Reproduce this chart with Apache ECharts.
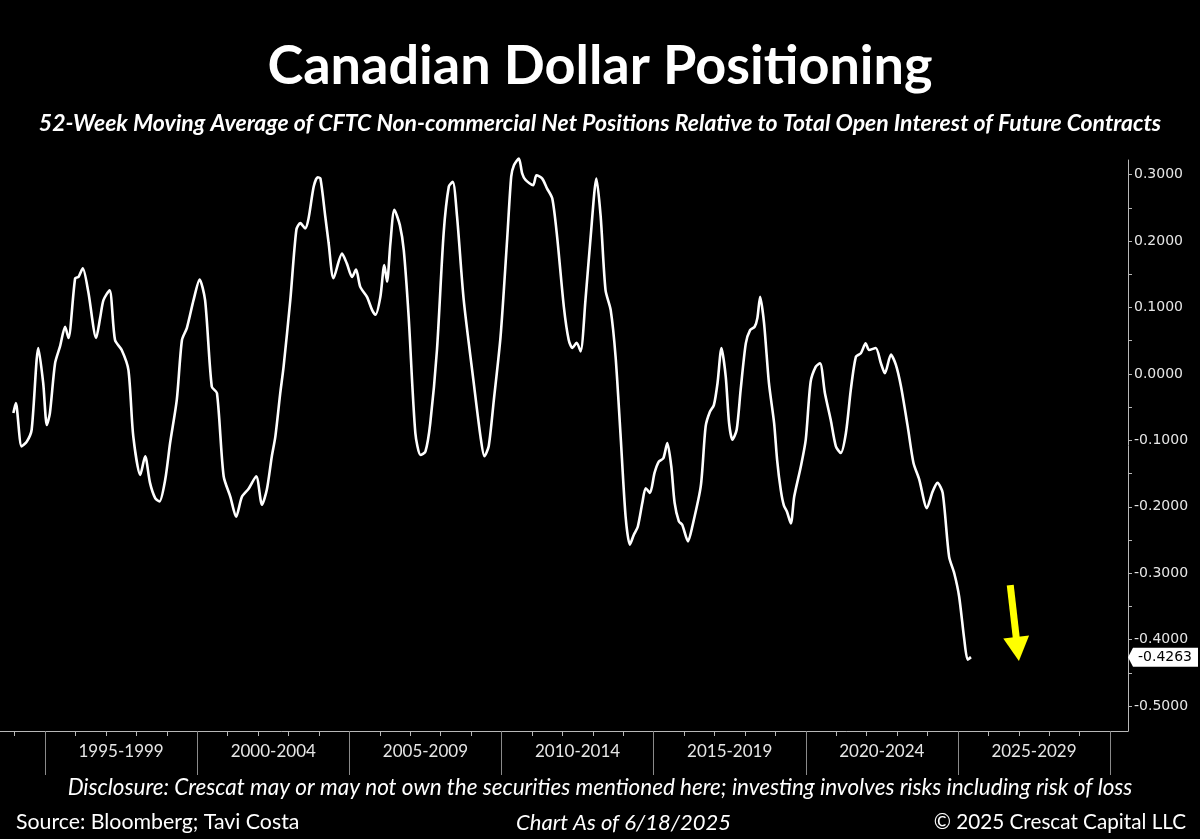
<!DOCTYPE html>
<html>
<head>
<meta charset="utf-8">
<script src="https://cdn.jsdelivr.net/npm/echarts@6/dist/echarts.min.js"></script>
<style>
html,body{margin:0;padding:0;background:#000;}
#chart{width:1200px;height:839px;}
</style>
</head>
<body>
<div id="chart"></div>
<script>
// ---- data (decimal year, 52w MA of net positions / open interest) ----
const years = [
1993.96,1994.04,1994.23,1994.40,1994.56,1994.78,1994.94,1995.06,1995.16,1995.33,1995.49,1995.66,1995.77,1995.99,
1996.10,1996.24,1996.42,1996.68,1996.81,1996.92,1997.12,1997.30,1997.52,1997.74,1997.90,1998.13,1998.29,1998.45,
1998.62,1998.76,1998.95,1999.11,1999.33,1999.50,1999.66,1999.88,2000.08,2000.26,2000.48,2000.65,2000.87,2001.09,
2001.28,2001.47,2001.69,2001.94,2002.13,2002.29,2002.45,2002.57,2002.73,2002.84,2003.06,2003.26,2003.39,2003.55,
2003.66,2003.83,2003.96,2004.05,2004.21,2004.32,2004.48,2004.76,2004.92,2005.09,2005.22,2005.36,2005.58,2005.75,
2005.86,2006.02,2006.15,2006.24,2006.35,2006.48,2006.66,2006.79,2006.95,2007.17,2007.34,2007.50,2007.66,2007.88,
2008.10,2008.27,2008.40,2008.54,2008.76,2009.09,2009.31,2009.44,2009.58,2009.75,2009.97,2010.19,2010.32,2010.41,
2010.57,2010.68,2010.79,2011.04,2011.15,2011.34,2011.50,2011.67,2011.83,2012.05,2012.21,2012.33,2012.47,2012.60,
2012.76,2012.93,2013.12,2013.26,2013.42,2013.59,2013.75,2013.91,2014.08,2014.22,2014.35,2014.48,2014.63,2014.74,
2014.88,2015.03,2015.17,2015.32,2015.45,2015.58,2015.69,2015.83,2015.94,2016.13,2016.27,2016.55,2016.71,2016.85,
2016.98,2017.10,2017.23,2017.37,2017.48,2017.59,2017.73,2017.86,2018.03,2018.17,2018.32,2018.41,2018.50,2018.63,
2018.79,2018.96,2019.06,2019.18,2019.28,2019.38,2019.51,2019.62,2019.84,2020.00,2020.16,2020.33,2020.47,2020.63,
2020.82,2020.99,2021.15,2021.32,2021.48,2021.65,2021.81,2021.97,2022.08,2022.30,2022.47,2022.60,2022.80,2022.96,
2023.13,2023.35,2023.54,2023.73,2023.98,2024.17,2024.33,2024.50,2024.71,2024.88,2025.04,2025.21,2025.32,2025.43
];
const values = [
-0.059,-0.044,-0.109,-0.102,-0.084,0.039,-0.014,-0.077,-0.059,0.016,0.041,0.071,0.054,0.144,
0.146,0.159,0.124,0.054,0.084,0.111,0.126,0.051,0.036,0.006,-0.094,-0.152,-0.124,-0.164,
-0.187,-0.192,-0.159,-0.104,-0.039,0.051,0.069,0.111,0.142,0.111,-0.019,-0.029,-0.154,-0.185,
-0.215,-0.185,-0.173,-0.154,-0.197,-0.174,-0.125,-0.094,-0.029,0.011,0.111,0.217,0.227,0.219,
0.234,0.282,0.296,0.294,0.237,0.197,0.144,0.181,0.166,0.146,0.157,0.131,0.116,0.096,
0.089,0.116,0.164,0.139,0.197,0.247,0.224,0.186,0.086,-0.089,-0.122,-0.117,-0.074,0.036,
0.212,0.282,0.289,0.237,0.111,-0.014,-0.094,-0.124,-0.109,-0.039,0.056,0.205,0.297,0.314,
0.324,0.302,0.292,0.284,0.299,0.294,0.279,0.264,0.206,0.101,0.051,0.039,0.047,0.034,
0.111,0.206,0.294,0.237,0.126,0.096,0.026,-0.089,-0.215,-0.257,-0.242,-0.230,-0.194,-0.172,
-0.179,-0.149,-0.132,-0.127,-0.104,-0.139,-0.194,-0.222,-0.227,-0.252,-0.230,-0.169,-0.079,-0.057,
-0.047,-0.014,0.039,-0.004,-0.074,-0.099,-0.084,-0.024,0.046,0.066,0.071,0.084,0.116,0.076,
-0.014,-0.074,-0.130,-0.175,-0.198,-0.207,-0.225,-0.185,-0.139,-0.099,-0.012,0.011,0.016,-0.029,
-0.069,-0.109,-0.119,-0.089,-0.024,0.026,0.031,0.046,0.036,0.039,0.016,0.001,0.029,0.014,
-0.019,-0.079,-0.134,-0.159,-0.202,-0.177,-0.164,-0.179,-0.275,-0.300,-0.335,-0.400,-0.430,-0.4263
];
const yLabelValues = [-0.5,-0.4,-0.3,-0.2,-0.1,0,0.1,0.2,0.3];
const yTickValues = [-0.5,-0.45,-0.4,-0.35,-0.3,-0.25,-0.2,-0.15,-0.1,-0.05,0,0.05,0.1,0.15,0.2,0.25,0.3];
const yearTicks = [1994,1995,1996,1997,1998,1999,2000,2001,2002,2003,2004,2005,2006,2007,2008,2009,2010,2011,2012,2013,2014,2015,2016,2017,2018,2019,2020,2021,2022,2023,2024,2025,2026,2027,2028,2029,2030];
const periodBounds = [1995,2000,2005,2010,2015,2020,2025,2030];
const periodCenters = [1997.5,2002.5,2007.5,2012.5,2017.5,2022.5,2027.5];
const periodLabels = ['1995-1999','2000-2004','2005-2009','2010-2014','2015-2019','2020-2024','2025-2029'];
const arrowFrom = [2026.72, -0.318];
const arrowTo = [2026.96, -0.414];

const X_MIN = 1993.52, X_MAX = 2030.59, Y_MIN = -0.5375, Y_MAX = 0.322;
const lastVal = values[values.length - 1];
const seriesData = years.map((y, i) => [y, values[i]]);

const chart = echarts.init(document.getElementById('chart'));
const axisGray = '#b8b8b8';
chart.setOption({
  backgroundColor: '#000',
  animation: false,
  title: [
    {text: 'Canadian Dollar Positioning', left: 'center', top: 35,
     textStyle: {color: '#fff', fontFamily: 'Lato', fontWeight: 'bold', fontSize: 54}},
    {text: '52-Week Moving Average of CFTC Non-commercial Net Positions Relative to Total Open Interest of Future Contracts',
     left: 'center', top: 107,
     textStyle: {color: '#fff', fontFamily: 'Lato', fontWeight: 'bold', fontStyle: 'italic', fontSize: 23}},
    {text: 'Disclosure: Crescat may or may not own the securities mentioned here; investing involves risks including risk of loss',
     left: 'center', top: 771,
     textStyle: {color: '#fff', fontFamily: 'Lato', fontStyle: 'italic', fontWeight: 'normal', fontSize: 22.5}},
    {text: 'Source: Bloomberg; Tavi Costa', left: 11, top: 807,
     textStyle: {color: '#fff', fontFamily: 'Lato', fontWeight: 'normal', fontSize: 21.3}},
    {text: 'Chart As of 6/18/2025', left: 511, top: 807,
     textStyle: {color: '#fff', fontFamily: 'Lato', fontStyle: 'italic', fontWeight: 'normal', fontSize: 22}},
    {text: '© 2025 Crescat Capital LLC', right: 9, top: 807,
     textStyle: {color: '#fff', fontFamily: 'Lato', fontWeight: 'normal', fontSize: 20.7}}
  ],
  grid: {left: 0, right: 72, top: 160, bottom: 108, containLabel: false},
  xAxis: [
    {type: 'value', min: X_MIN, max: X_MAX, position: 'bottom',
     axisLine: {show: true, onZero: false, lineStyle: {color: axisGray, width: 1}},
     axisTick: {show: true, customValues: yearTicks, length: 5, lineStyle: {color: axisGray}},
     axisLabel: {show: false}, splitLine: {show: false}},
    {type: 'value', min: X_MIN, max: X_MAX, position: 'bottom',
     axisLine: {show: false, onZero: false},
     axisTick: {show: true, customValues: periodBounds, length: 44, lineStyle: {color: '#8a8a8a'}},
     axisLabel: {show: true, customValues: periodCenters, margin: 12, color: '#e6e6e6',
       fontFamily: 'Lato', fontSize: 17,
       formatter: v => periodLabels[periodCenters.indexOf(v)] || ''},
     splitLine: {show: false}}
  ],
  yAxis: {
    type: 'value', position: 'right', min: Y_MIN, max: Y_MAX,
    axisLine: {show: true, onZero: false, lineStyle: {color: axisGray, width: 1}},
    axisTick: {show: true, customValues: yTickValues, length: 4, lineStyle: {color: axisGray}},
    axisLabel: {show: true, customValues: yLabelValues, margin: 6, color: '#e6e6e6',
      fontFamily: 'DejaVu Sans', fontSize: 14, formatter: v => v.toFixed(4)},
    splitLine: {show: false}
  },
  series: [
    {type: 'line', xAxisIndex: 0, data: seriesData, showSymbol: false, smooth: 0.25,
     lineStyle: {color: '#fff', width: 2.6}, clip: false,
     markPoint: {
       symbol: 'path://M0,5 L5,0 L70,0 L70,10 L5,10 Z', symbolKeepAspect: false,
       symbolSize: [70, 19], symbolOffset: [35, 0],
       itemStyle: {color: '#fff'},
       label: {show: true, color: '#000', fontFamily: 'DejaVu Sans', fontSize: 14, offset: [2, 0],
         formatter: () => lastVal.toFixed(4)},
       data: [{coord: [X_MAX, lastVal]}]
     },
     markLine: {
       silent: true, symbol: ['none', 'path://M5,0 L10,10 L0,10 Z'], symbolSize: [26, 24],
       lineStyle: {color: '#ffff00', width: 7, type: 'solid', opacity: 1},
       itemStyle: {color: '#ffff00'},
       label: {show: false},
       data: [[{coord: arrowFrom}, {coord: arrowTo}]]
     }}
  ]
});
</script>
</body>
</html>
